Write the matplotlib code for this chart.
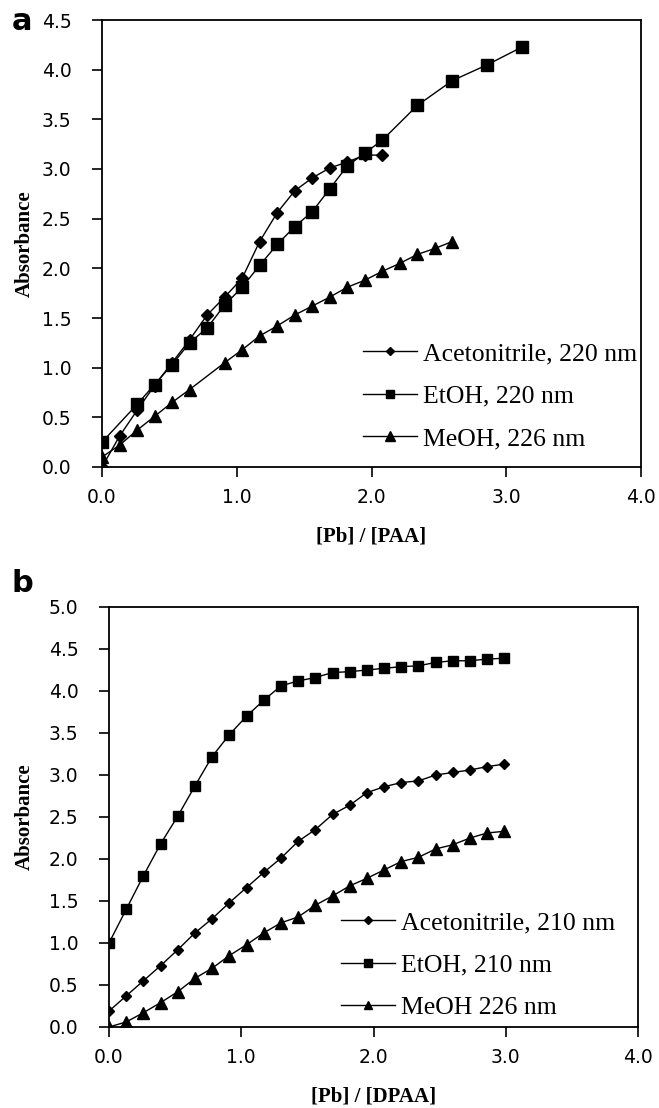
import matplotlib
matplotlib.use("Agg")
import matplotlib.pyplot as plt

# ---- panel a data ----
a_acn_x = [0.0, 0.13, 0.26, 0.39, 0.52, 0.65, 0.78, 0.91, 1.04, 1.17, 1.30,
           1.43, 1.56, 1.69, 1.82, 1.95, 2.08]
a_acn_y = [0.0, 0.31, 0.57, 0.82, 1.05, 1.28, 1.53, 1.71, 1.90, 2.27, 2.56,
           2.78, 2.91, 3.01, 3.07, 3.14, 3.14]

a_etoh_x = [0.0, 0.26, 0.39, 0.52, 0.65, 0.78, 0.91, 1.04, 1.17, 1.30, 1.43,
            1.56, 1.69, 1.82, 1.95, 2.08, 2.34, 2.60, 2.86, 3.12]
a_etoh_y = [0.25, 0.63, 0.83, 1.03, 1.25, 1.40, 1.63, 1.81, 2.03, 2.24, 2.42,
            2.57, 2.80, 3.03, 3.16, 3.29, 3.64, 3.89, 4.05, 4.23]

a_meoh_x = [0.0, 0.13, 0.26, 0.39, 0.52, 0.65, 0.91, 1.04, 1.17, 1.30, 1.43,
            1.56, 1.69, 1.82, 1.95, 2.08, 2.21, 2.34, 2.47, 2.60]
a_meoh_y = [0.10, 0.22, 0.37, 0.51, 0.65, 0.78, 1.05, 1.18, 1.32, 1.42, 1.53,
            1.62, 1.71, 1.81, 1.88, 1.97, 2.05, 2.14, 2.20, 2.27]

# ---- panel b data ----
b_x = [0.0, 0.13, 0.26, 0.39, 0.52, 0.65, 0.78, 0.91, 1.04, 1.17, 1.30, 1.43,
       1.56, 1.69, 1.82, 1.95, 2.08, 2.21, 2.34, 2.47, 2.60, 2.73, 2.86, 2.99]
b_acn_y = [0.19, 0.37, 0.55, 0.73, 0.92, 1.12, 1.29, 1.48, 1.66, 1.84, 2.01,
           2.21, 2.35, 2.53, 2.64, 2.79, 2.86, 2.91, 2.93, 3.00, 3.03, 3.06,
           3.10, 3.13]
b_etoh_y = [1.00, 1.40, 1.80, 2.18, 2.51, 2.87, 3.22, 3.48, 3.70, 3.89, 4.06,
            4.12, 4.16, 4.22, 4.23, 4.25, 4.27, 4.29, 4.30, 4.34, 4.36, 4.36,
            4.38, 4.39]
b_meoh_y = [0.0, 0.06, 0.17, 0.29, 0.42, 0.58, 0.70, 0.85, 0.98, 1.12, 1.24,
            1.31, 1.45, 1.56, 1.68, 1.77, 1.87, 1.97, 2.02, 2.12, 2.17, 2.25,
            2.31, 2.33]

labels_a = ["Acetonitrile, 220 nm", "EtOH, 220 nm", "MeOH, 226 nm"]
labels_b = ["Acetonitrile, 210 nm", "EtOH, 210 nm", "MeOH 226 nm"]
xticks = [0.0, 1.0, 2.0, 3.0, 4.0]

W, H = 659, 1108
fig = plt.figure(figsize=(W / 100, H / 100), dpi=100)
fig.patch.set_facecolor("white")

serif = "Liberation Serif"
sans = "DejaVu Sans"


def style_axes(ax, yticks, ylabelpad):
    ax.set_xlim(0, 4)
    ax.set_xticks(xticks)
    ax.set_xticklabels([f"{t:.1f}" for t in xticks], family=sans, fontsize=13.5)
    ax.set_yticks(yticks)
    ax.set_yticklabels([f"{t:.1f}" for t in yticks], family=sans, fontsize=13.5)
    ax.tick_params(axis="y", direction="out", length=7, width=1.2, pad=15)
    ax.tick_params(axis="x", direction="out", length=7, width=1.2, pad=8)
    for s in ax.spines.values():
        s.set_linewidth(1.3)
    ax.set_ylabel("Absorbance", family=serif, fontweight="bold", fontsize=15,
                  labelpad=ylabelpad)


def add_legend(ax, handles, labels, x0, y0):
    ax.legend(handles, labels, loc="upper left",
              bbox_to_anchor=(x0 / W, 1 - y0 / H), bbox_transform=fig.transFigure,
              frameon=False, borderpad=0, borderaxespad=0, handlelength=2.1,
              handletextpad=0.25, labelspacing=0.76, markerscale=0.75,
              prop={"family": serif, "size": 18.5})


# ---- panel a ----
ax1 = fig.add_axes([102 / W, 1 - 467 / H, 539 / W, 447 / H])
l1, = ax1.plot(a_acn_x, a_acn_y, "k-", marker="D", ms=6, lw=1)
l2, = ax1.plot(a_etoh_x, a_etoh_y, "k-", marker="s", ms=8, lw=1)
l3, = ax1.plot(a_meoh_x, a_meoh_y, "k-", marker="^", ms=9, lw=1)
ax1.set_ylim(0, 4.5)
style_axes(ax1, [0.0, 0.5, 1.0, 1.5, 2.0, 2.5, 3.0, 3.5, 4.0, 4.5], 5)
ax1.set_xlabel("[Pb] / [PAA]", family=serif, fontweight="bold", fontsize=15,
               labelpad=14)
add_legend(ax1, [l1, l2, l3], labels_a, 363, 342)
fig.text(22 / W, 1 - 22 / H, "a", family=sans, fontweight="bold", fontsize=22,
         ha="center", va="center")

# ---- panel b ----
ax2 = fig.add_axes([109 / W, 1 - 1027 / H, 529 / W, 420 / H])
m1, = ax2.plot(b_x, b_acn_y, "k-", marker="D", ms=5, lw=1)
m2, = ax2.plot(b_x, b_etoh_y, "k-", marker="s", ms=7, lw=1)
m3, = ax2.plot(b_x, b_meoh_y, "k-", marker="^", ms=8, lw=1)
ax2.set_ylim(0, 5.0)
style_axes(ax2, [0.0, 0.5, 1.0, 1.5, 2.0, 2.5, 3.0, 3.5, 4.0, 4.5, 5.0], 10)
ax2.set_xlabel("[Pb] / [DPAA]", family=serif, fontweight="bold", fontsize=15,
               labelpad=14)
add_legend(ax2, [m1, m2, m3], labels_b, 341, 911)
fig.text(22 / W, 1 - 583 / H, "b", family=sans, fontweight="bold", fontsize=22,
         ha="center", va="center")

fig.savefig("out.png", dpi=100)
